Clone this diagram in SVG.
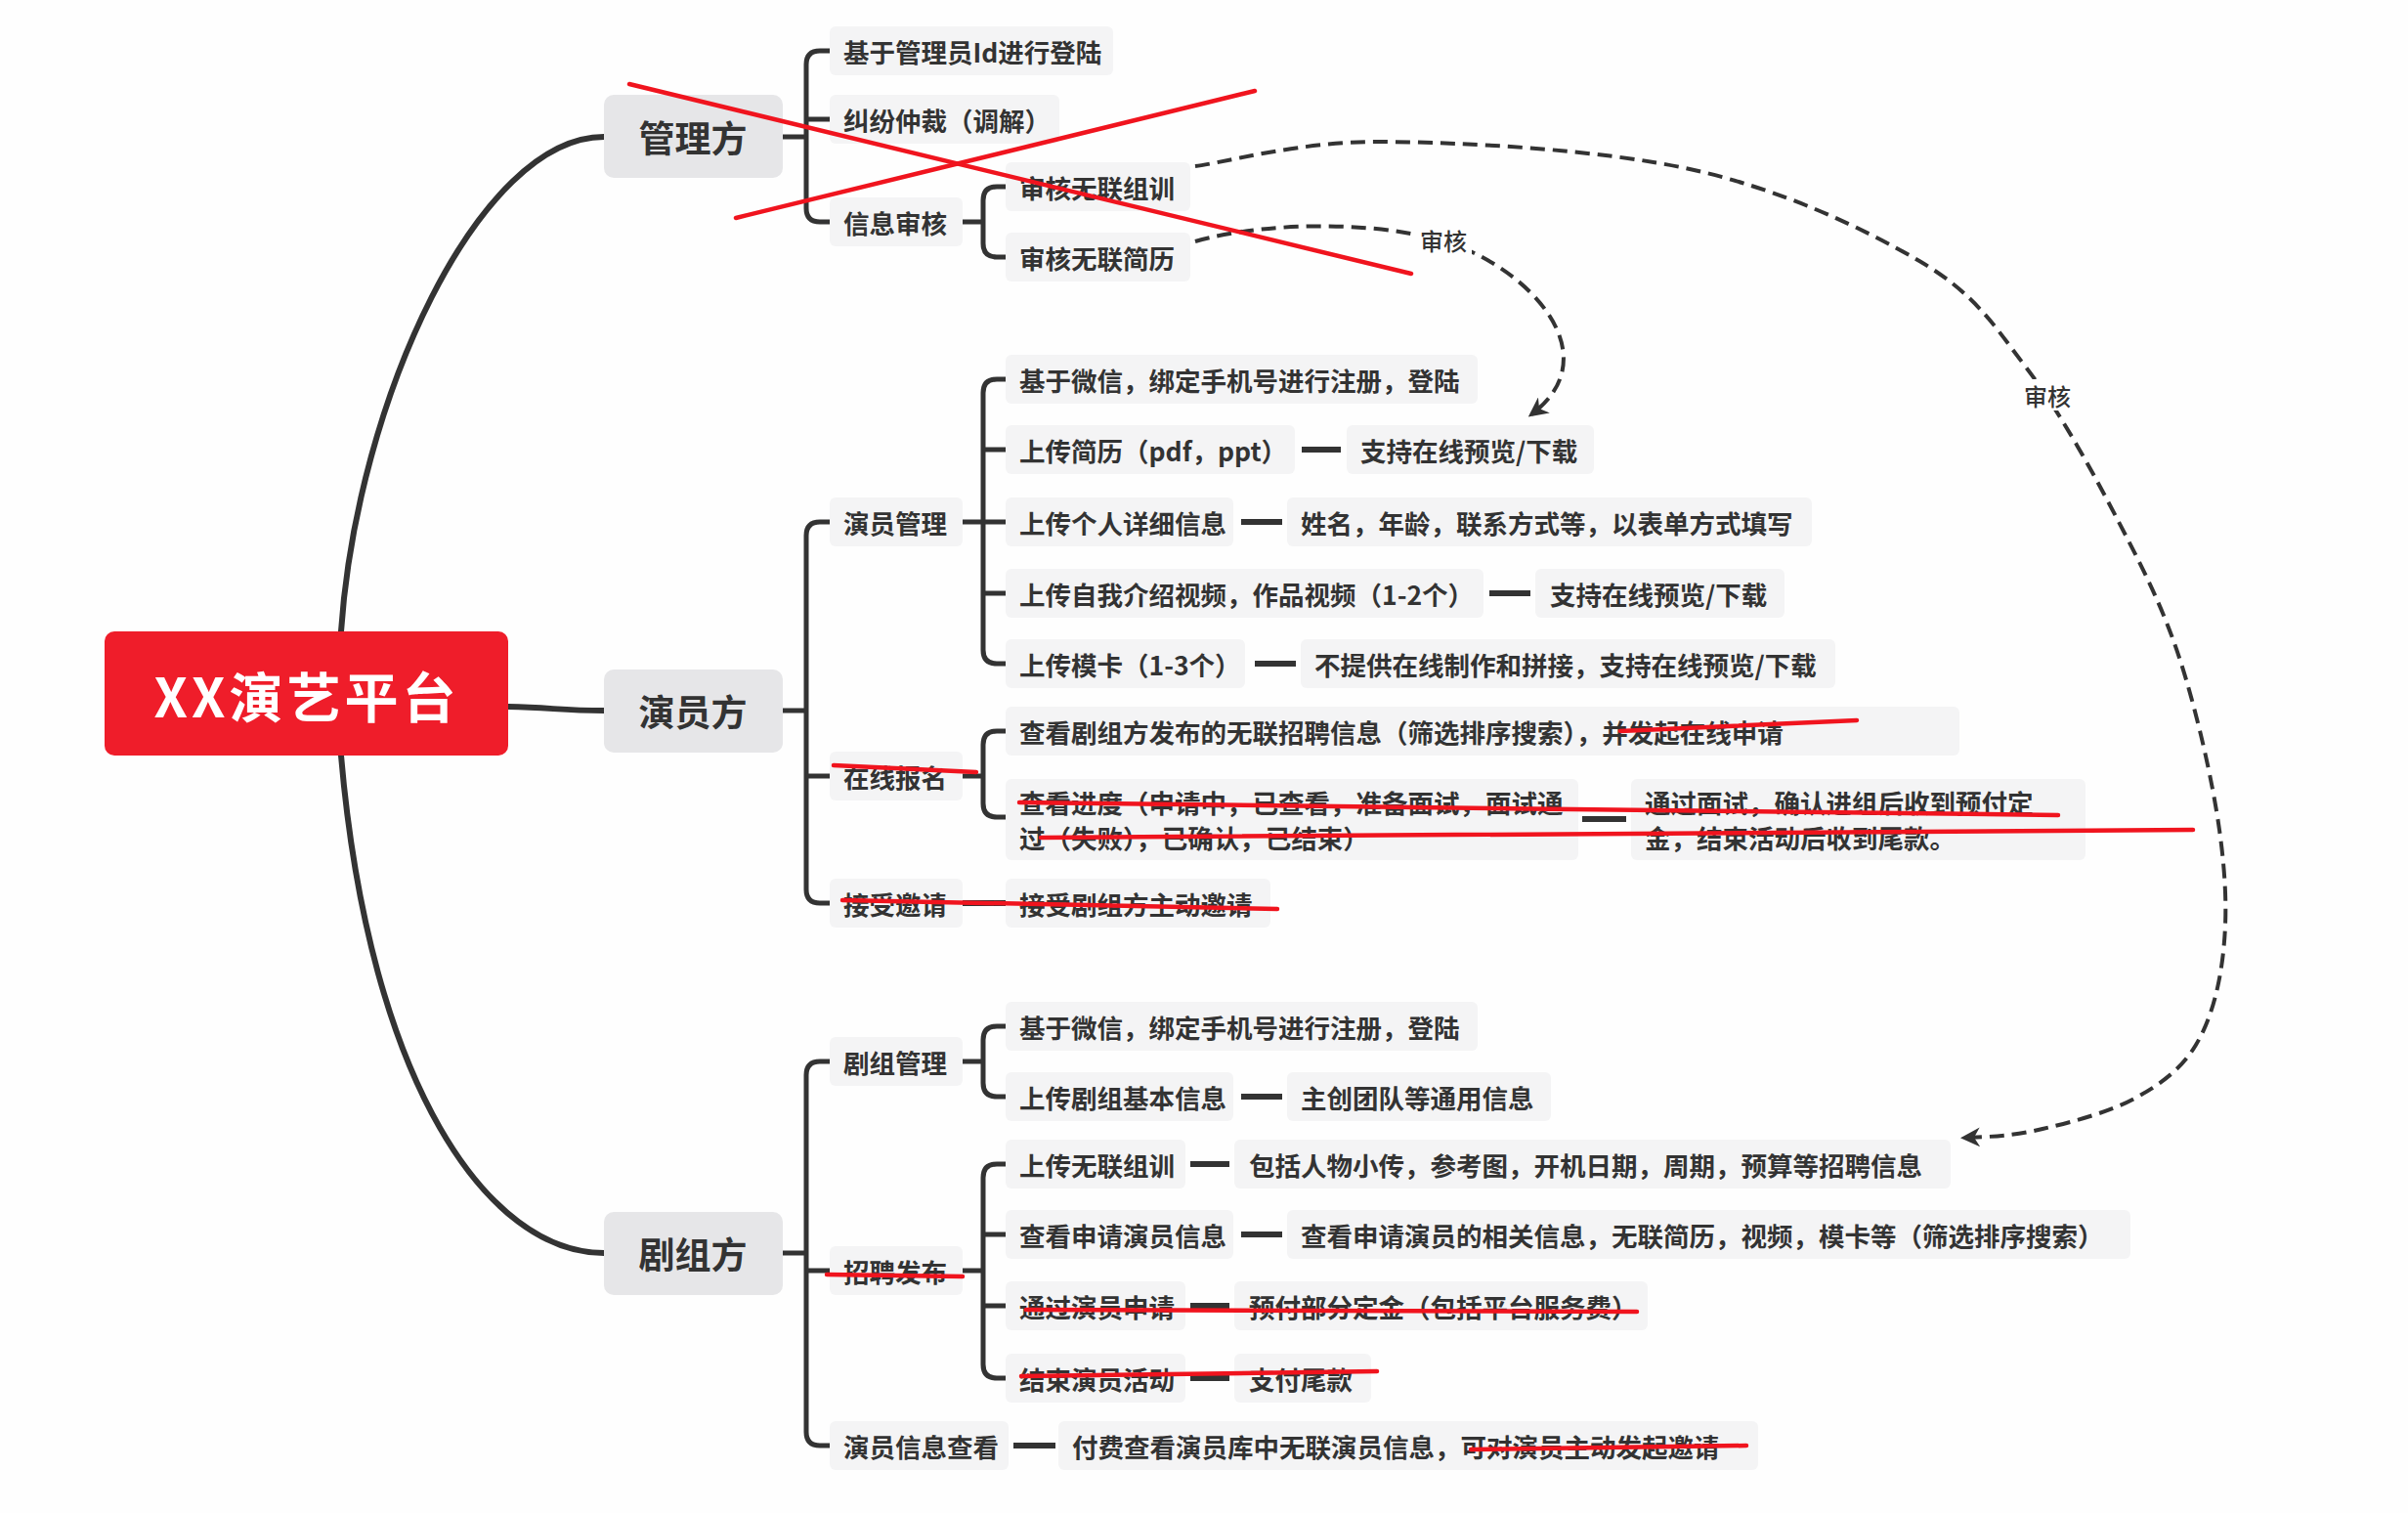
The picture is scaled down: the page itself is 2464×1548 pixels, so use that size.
<svg xmlns="http://www.w3.org/2000/svg" width="2464" height="1548" viewBox="0 0 2464 1548">
<style>
  text { font-family: "Noto Sans CJK SC", "Noto Sans", sans-serif; fill: #333; font-weight: bold; }
  .root-t { fill: #fff; font-size: 55px; }
  .l1 { fill: #e6e6e8; }
  .l1-t { font-size: 37px; }
  .box { fill: #f4f4f5; }
  .t { font-size: 26.5px; }
  .lbl { font-size: 24px; font-weight: 500; }
  .con { fill: none; stroke: #333; stroke-width: 5; stroke-linecap: round; stroke-linejoin: round; }
  .main { fill: none; stroke: #333; stroke-width: 6; stroke-linecap: round; }
  .dash { fill: none; stroke: #333; stroke-width: 6; }
  .ref { fill: none; stroke: #333; stroke-width: 4; stroke-dasharray: 15 8; }
  .red { stroke: #f0141e; stroke-width: 4.5; stroke-linecap: round; }
</style>
<defs>
  <marker id="arrow" viewBox="0 0 10 10" refX="8" refY="5" markerWidth="20" markerHeight="20" markerUnits="userSpaceOnUse" orient="auto">
    <path d="M0,0 L10,5 L0,10 L3,5 z" fill="#333"/>
  </marker>
</defs>
<rect width="2464" height="1548" fill="#fefefe"/>

<g id="connectors">
  <!-- root to level 1 -->
  <path class="main" d="M349,646 C365,410 490,140 618,140"/>
  <path class="main" d="M520,723 C565,724 575,727 618,727"/>
  <path class="main" d="M349,773 C378,1110 500,1282 618,1282"/>
  <!-- 管理方 bracket -->
  <path class="con" d="M801,140 H825 M849,52 H839 Q825,52 825,66 V213 Q825,227 839,227 H849 M825,122 H849"/>
  <!-- 信息审核 bracket -->
  <path class="con" d="M985,227 H1006 M1029,191 H1020 Q1006,191 1006,205 V249 Q1006,263 1020,263 H1029"/>
  <!-- 演员方 bracket -->
  <path class="con" d="M801,727 H825 M849,534 H839 Q825,534 825,548 V910 Q825,924 839,924 H849 M825,794 H849"/>
  <!-- 演员管理 bracket -->
  <path class="con" d="M985,534 H1029 M1029,388 H1020 Q1006,388 1006,402 V665 Q1006,679 1020,679 H1029 M1006,460 H1029 M1006,607 H1029"/>
  <!-- 在线报名 bracket -->
  <path class="con" d="M985,794 H1006 M1029,748 H1020 Q1006,748 1006,762 V822 Q1006,836 1020,836 H1029"/>
  <!-- 剧组方 bracket -->
  <path class="con" d="M801,1282 H825 M849,1086 H839 Q825,1086 825,1100 V1465 Q825,1479 839,1479 H849 M825,1300 H849"/>
  <!-- 剧组管理 bracket -->
  <path class="con" d="M985,1086 H1006 M1029,1050 H1020 Q1006,1050 1006,1064 V1108 Q1006,1122 1020,1122 H1029"/>
  <!-- 招聘发布 bracket -->
  <path class="con" d="M985,1300 H1006 M1029,1191 H1020 Q1006,1191 1006,1205 V1396 Q1006,1410 1020,1410 H1029 M1006,1263 H1029 M1006,1336 H1029"/>
  <!-- detail dashes -->
  <path class="dash" d="M1332,460 H1372 M1270,534 H1312 M1524,607 H1566 M1284,679 H1326 M1619,838 H1664 M985,924 H1029 M1270,1122 H1312 M1218,1191 H1258 M1270,1263 H1312 M1218,1336 H1258 M1218,1410 H1258 M1037,1479 H1080"/>
  <!-- dashed reference arrows -->
  <path class="ref" marker-end="url(#arrow)" d="M1223,247 C1300,225 1430,225 1500,255 C1580,290 1640,370 1567,424"/>
  <path class="ref" marker-end="url(#arrow)" d="M1223,170 C1255,166 1330,144.5 1414,145 C1498,145.5 1637,153 1729,173 C1821,193 1906,233 1964,267 C2021.5,301 2040,332.5 2074,377 C2108,421.5 2142,484 2168,534 C2194,584 2214,623.5 2231,676 C2248,728.5 2264,799 2271,849 C2278,899 2279,937 2275,974 C2271,1011 2262,1044 2247,1069 C2232,1094 2210,1110 2184,1124 C2158,1138 2120,1148 2090,1155 C2060,1162 2040,1163 2010,1164"/>
  <g id="label-review-1">
    <rect x="1448" y="229" width="58" height="32" fill="#fefefe"/>
    <text class="lbl" x="1477" y="245" text-anchor="middle" dominant-baseline="central">审核</text>
  </g>
  <g id="label-review-2">
    <rect x="2066" y="388" width="58" height="32" fill="#fefefe"/>
    <text class="lbl" x="2095" y="404" text-anchor="middle" dominant-baseline="central">审核</text>
  </g>
</g>

<g id="root">
  <rect x="107" y="646" width="413" height="127" rx="10" fill="#ef1d2a"/>
  <text class="root-t" x="314" y="710" text-anchor="middle" dominant-baseline="central" letter-spacing="4">XX演艺平台</text>
</g>

<g id="n-admin">
  <rect class="l1" x="618" y="97" width="183" height="85" rx="10"/>
  <text class="l1-t" x="709" y="140" text-anchor="middle" dominant-baseline="central">管理方</text>
</g>
<g id="n-actor">
  <rect class="l1" x="618" y="685" width="183" height="85" rx="10"/>
  <text class="l1-t" x="709" y="727" text-anchor="middle" dominant-baseline="central">演员方</text>
</g>
<g id="n-crew">
  <rect class="l1" x="618" y="1240" width="183" height="85" rx="10"/>
  <text class="l1-t" x="709" y="1282" text-anchor="middle" dominant-baseline="central">剧组方</text>
</g>

<!-- 管理方 children -->
<g id="n-admin-login"><rect class="box" x="849" y="27" width="290" height="50" rx="6"/><text class="t" x="863" y="52" dominant-baseline="central">基于管理员Id进行登陆</text></g>
<g id="n-admin-dispute"><rect class="box" x="849" y="97" width="235" height="50" rx="6"/><text class="t" x="863" y="122" dominant-baseline="central">纠纷仲裁（调解）</text></g>
<g id="n-admin-review"><rect class="box" x="849" y="202" width="136" height="50" rx="6"/><text class="t" x="863" y="227" dominant-baseline="central">信息审核</text></g>
<g id="n-review-group"><rect class="box" x="1029" y="166" width="189" height="50" rx="6"/><text class="t" x="1043" y="191" dominant-baseline="central">审核无联组训</text></g>
<g id="n-review-resume"><rect class="box" x="1029" y="238" width="189" height="50" rx="6"/><text class="t" x="1043" y="263" dominant-baseline="central">审核无联简历</text></g>

<!-- 演员方 children -->
<g id="n-actor-mgmt"><rect class="box" x="849" y="509" width="136" height="50" rx="6"/><text class="t" x="863" y="534" dominant-baseline="central">演员管理</text></g>
<g id="n-actor-login"><rect class="box" x="1029" y="363" width="483" height="50" rx="6"/><text class="t" x="1043" y="388" dominant-baseline="central">基于微信，绑定手机号进行注册，登陆</text></g>
<g id="n-actor-resume"><rect class="box" x="1029" y="435" width="296" height="50" rx="6"/><text class="t" x="1043" y="460" dominant-baseline="central">上传简历（pdf，ppt）</text></g>
<g id="n-actor-resume-d"><rect class="box" x="1378" y="435" width="253" height="50" rx="6"/><text class="t" x="1392" y="460" dominant-baseline="central">支持在线预览/下载</text></g>
<g id="n-actor-info"><rect class="box" x="1029" y="509" width="233" height="50" rx="6"/><text class="t" x="1043" y="534" dominant-baseline="central">上传个人详细信息</text></g>
<g id="n-actor-info-d"><rect class="box" x="1317" y="509" width="537" height="50" rx="6"/><text class="t" x="1331" y="534" dominant-baseline="central">姓名，年龄，联系方式等，以表单方式填写</text></g>
<g id="n-actor-video"><rect class="box" x="1029" y="582" width="489" height="50" rx="6"/><text class="t" x="1043" y="607" dominant-baseline="central">上传自我介绍视频，作品视频（1-2个）</text></g>
<g id="n-actor-video-d"><rect class="box" x="1571" y="582" width="255" height="50" rx="6"/><text class="t" x="1586" y="607" dominant-baseline="central">支持在线预览/下载</text></g>
<g id="n-actor-card"><rect class="box" x="1029" y="654" width="245" height="50" rx="6"/><text class="t" x="1043" y="679" dominant-baseline="central">上传模卡（1-3个）</text></g>
<g id="n-actor-card-d"><rect class="box" x="1331" y="654" width="547" height="50" rx="6"/><text class="t" x="1345" y="679" dominant-baseline="central">不提供在线制作和拼接，支持在线预览/下载</text></g>
<g id="n-actor-apply"><rect class="box" x="849" y="769" width="136" height="50" rx="6"/><text class="t" x="863" y="794" dominant-baseline="central">在线报名</text></g>
<g id="n-apply-browse"><rect class="box" x="1029" y="723" width="976" height="50" rx="6"/><text class="t" x="1043" y="748" dominant-baseline="central">查看剧组方发布的无联招聘信息（筛选排序搜索），并发起在线申请</text></g>
<g id="n-apply-progress"><rect class="box" x="1029" y="797" width="586" height="83" rx="6"/><text class="t" x="1043" y="820" dominant-baseline="central">查看进度（申请中，已查看，准备面试，面试通</text><text class="t" x="1043" y="856" dominant-baseline="central">过（失败），已确认，已结束）</text></g>
<g id="n-apply-result"><rect class="box" x="1669" y="797" width="465" height="83" rx="6"/><text class="t" x="1683" y="820" dominant-baseline="central">通过面试，确认进组后收到预付定</text><text class="t" x="1683" y="856" dominant-baseline="central">金，结束活动后收到尾款。</text></g>
<g id="n-actor-invite"><rect class="box" x="849" y="899" width="136" height="50" rx="6"/><text class="t" x="863" y="924" dominant-baseline="central">接受邀请</text></g>
<g id="n-invite-accept"><rect class="box" x="1029" y="899" width="271" height="50" rx="6"/><text class="t" x="1043" y="924" dominant-baseline="central">接受剧组方主动邀请</text></g>

<!-- 剧组方 children -->
<g id="n-crew-mgmt"><rect class="box" x="849" y="1061" width="136" height="50" rx="6"/><text class="t" x="863" y="1086" dominant-baseline="central">剧组管理</text></g>
<g id="n-crew-login"><rect class="box" x="1029" y="1025" width="483" height="50" rx="6"/><text class="t" x="1043" y="1050" dominant-baseline="central">基于微信，绑定手机号进行注册，登陆</text></g>
<g id="n-crew-info"><rect class="box" x="1029" y="1097" width="233" height="50" rx="6"/><text class="t" x="1043" y="1122" dominant-baseline="central">上传剧组基本信息</text></g>
<g id="n-crew-info-d"><rect class="box" x="1317" y="1097" width="270" height="50" rx="6"/><text class="t" x="1331" y="1122" dominant-baseline="central">主创团队等通用信息</text></g>
<g id="n-crew-recruit"><rect class="box" x="849" y="1275" width="136" height="50" rx="6"/><text class="t" x="863" y="1300" dominant-baseline="central">招聘发布</text></g>
<g id="n-recruit-upload"><rect class="box" x="1029" y="1166" width="184" height="50" rx="6"/><text class="t" x="1043" y="1191" dominant-baseline="central">上传无联组训</text></g>
<g id="n-recruit-upload-d"><rect class="box" x="1263" y="1166" width="733" height="50" rx="6"/><text class="t" x="1278" y="1191" dominant-baseline="central">包括人物小传，参考图，开机日期，周期，预算等招聘信息</text></g>
<g id="n-recruit-view"><rect class="box" x="1029" y="1238" width="233" height="50" rx="6"/><text class="t" x="1043" y="1263" dominant-baseline="central">查看申请演员信息</text></g>
<g id="n-recruit-view-d"><rect class="box" x="1317" y="1238" width="863" height="50" rx="6"/><text class="t" x="1331" y="1263" dominant-baseline="central">查看申请演员的相关信息，无联简历，视频，模卡等（筛选排序搜索）</text></g>
<g id="n-recruit-pass"><rect class="box" x="1029" y="1311" width="184" height="50" rx="6"/><text class="t" x="1043" y="1336" dominant-baseline="central">通过演员申请</text></g>
<g id="n-recruit-pass-d"><rect class="box" x="1263" y="1311" width="423" height="50" rx="6"/><text class="t" x="1278" y="1336" dominant-baseline="central">预付部分定金（包括平台服务费）</text></g>
<g id="n-recruit-end"><rect class="box" x="1029" y="1385" width="184" height="50" rx="6"/><text class="t" x="1043" y="1410" dominant-baseline="central">结束演员活动</text></g>
<g id="n-recruit-end-d"><rect class="box" x="1263" y="1385" width="140" height="50" rx="6"/><text class="t" x="1278" y="1410" dominant-baseline="central">支付尾款</text></g>
<g id="n-crew-browse"><rect class="box" x="849" y="1454" width="183" height="50" rx="6"/><text class="t" x="863" y="1479" dominant-baseline="central">演员信息查看</text></g>
<g id="n-crew-browse-d"><rect class="box" x="1083" y="1454" width="716" height="50" rx="6"/><text class="t" x="1097" y="1479" dominant-baseline="central">付费查看演员库中无联演员信息，可对演员主动发起邀请</text></g>

<!-- red strike-through annotations -->
<g id="annotations">
  <line class="red" x1="644" y1="86" x2="1444" y2="280"/>
  <line class="red" x1="753" y1="223" x2="1284" y2="93"/>
  <line class="red" x1="853" y1="783" x2="999" y2="790"/>
  <line class="red" x1="1658" y1="748" x2="1900" y2="737"/>
  <line class="red" x1="1043" y1="821" x2="2106" y2="834"/>
  <line class="red" x1="1065" y1="857" x2="2244" y2="849"/>
  <line class="red" x1="862" y1="921" x2="1307" y2="930"/>
  <line class="red" x1="846" y1="1304" x2="985" y2="1306"/>
  <line class="red" x1="1050" y1="1340" x2="1675" y2="1342"/>
  <line class="red" x1="1045" y1="1408" x2="1409" y2="1403"/>
  <line class="red" x1="1505" y1="1483" x2="1787" y2="1479"/>
</g>
</svg>
